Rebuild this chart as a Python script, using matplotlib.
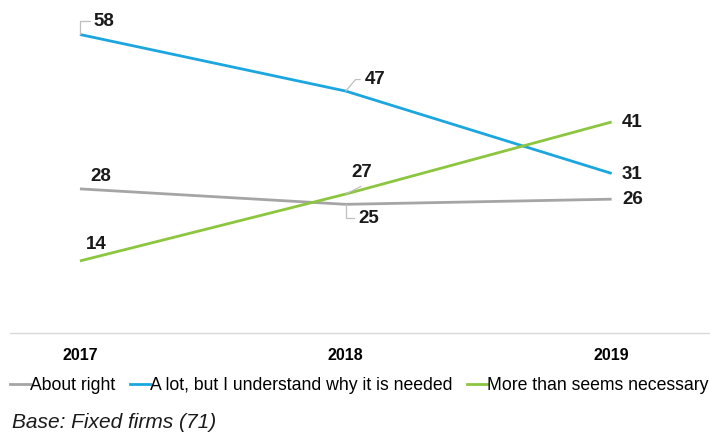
import matplotlib
matplotlib.use("Agg")
import matplotlib.pyplot as plt
from matplotlib.lines import Line2D

plt.rcParams['font.family'] = ['Liberation Sans', 'DejaVu Sans']

years = ["2017", "2018", "2019"]
about_right = [28, 25, 26]
a_lot = [58, 47, 31]
more_than = [14, 27, 41]
series_names = ["About right", "A lot, but I understand why it is needed", "More than seems necessary"]
colors = ["#A5A5A5", "#1BA6DF", "#8CC63F"]

fig = plt.figure(figsize=(7.1, 4.32), dpi=100)
ax = fig.add_axes([10/710, 99/432, 700/710, 333/432])
x = list(range(len(years)))
series = [about_right, a_lot, more_than]
for vals, c, name in zip(series, colors, series_names):
    ax.plot(x, vals, color=c, lw=2.0, label=name, solid_capstyle='butt')

ax.set_xlim(-0.263, 2.37)
ax.set_ylim(0, 64.7)
for s in ["top", "left", "right"]:
    ax.spines[s].set_visible(False)
ax.spines["bottom"].set_color("#D9D9D9")
ax.spines["bottom"].set_linewidth(1)
ax.set_yticks([])
ax.set_xticks(x)
ax.set_xticklabels(years, fontsize=11.5, fontweight='bold')
ax.tick_params(axis='x', length=0, pad=11)

# (series index, point index): (dx, dy in points, leader) ; leader = (ex, ey, angle) end offset
lab = {
    (1, 0): (17.5, 9.4, (7, 9.4, 90)),
    (1, 1): (21, 8.3, (10.5, 8.3, 50)),
    (1, 2): (15, -0.5, None),
    (0, 0): (15, 9, None),
    (0, 1): (16.5, -10, (6, -10, 90)),
    (0, 2): (15, 0, None),
    (2, 0): (12, 11.5, None),
    (2, 1): (11.5, 15.6, (11, 5.5, None)),
    (2, 2): (15, -0.7, None),
}
for (si, pi), (dx, dy, leader) in lab.items():
    v = series[si][pi]
    ax.annotate(str(v), (pi, v), xytext=(dx, dy), textcoords='offset points',
                ha='center', va='center', fontsize=13.5, fontweight='bold', color='#1a1a1a',
                annotation_clip=False)
    if leader is not None:
        ex, ey, ang = leader
        cs = 'arc3' if ang is None else f'angle,angleA=0,angleB={ang},rad=0'
        ax.annotate("", (pi, v), xytext=(ex, ey), textcoords='offset points',
                    arrowprops=dict(arrowstyle='-', color='#BFBFBF', lw=0.9,
                                    shrinkA=0, shrinkB=0, connectionstyle=cs))

handles = [Line2D([0], [0], color=c, lw=2.0) for c in colors]
fig.legend(handles, series_names, loc='center left', bbox_to_anchor=(10/710, 1 - 386/432),
           ncol=3, frameon=False, fontsize=12.7, handlelength=1.15, handletextpad=0.0,
           columnspacing=0.8, borderaxespad=0, borderpad=0)

fig.text(12/710, 1 - 423/432, "Base: Fixed firms (71)", fontsize=15, style='italic',
         va='center', ha='left', color='#1a1a1a')

fig.savefig("out.png", dpi=100)
